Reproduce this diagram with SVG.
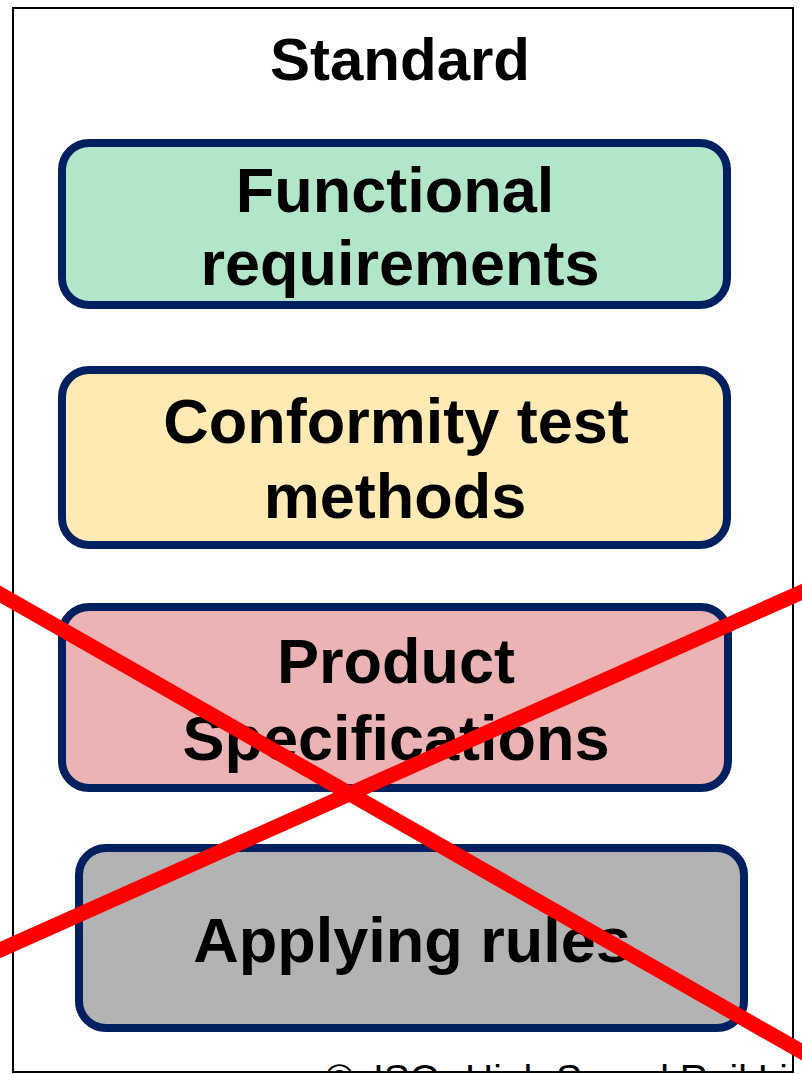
<svg xmlns="http://www.w3.org/2000/svg" width="802" height="1074" viewBox="0 0 802 1074">
  <style>
    .box { stroke: #002060; stroke-width: 8; }
    .lbl { font-family: "Liberation Sans", Arial, sans-serif; font-weight: bold; font-size: 63px; fill: #000; text-anchor: middle; }
    .cross { stroke: #FF0000; stroke-width: 15; fill: none; }
  </style>
  <defs>
    <clipPath id="frameClip">
      <rect x="13" y="8" width="780" height="1064"/>
    </clipPath>
  </defs>
  <rect width="802" height="1074" fill="#FFFFFF"/>
  <g id="frame">
    <text x="325" y="1092" clip-path="url(#frameClip)" style="font-family: 'Liberation Sans', Arial, sans-serif; font-size: 39px; fill: #000;"><tspan x="325">©</tspan><tspan x="373">ISO -</tspan><tspan x="465">High Speed Rail Li</tspan></text>
    <rect x="13" y="8" width="780" height="1064" fill="none" stroke="#000000" stroke-width="2"/>
    <text x="400" y="80" class="lbl" style="font-size: 60px;">Standard</text>
  </g>
  <g id="node-functional">
    <rect class="box" x="62" y="143" width="665" height="162" rx="27" fill="#B2E6C9"/>
    <text class="lbl" x="395" y="212">Functional</text>
    <text class="lbl" x="400" y="285">requirements</text>
  </g>
  <g id="node-conformity">
    <rect class="box" x="62" y="370" width="665" height="175" rx="27" fill="#FFEAB4"/>
    <text class="lbl" x="396" y="443">Conformity test</text>
    <text class="lbl" x="395" y="518">methods</text>
  </g>
  <g id="node-product">
    <rect class="box" x="62" y="607" width="666" height="181" rx="27" fill="#EBB3B3"/>
    <text class="lbl" x="396" y="683">Product</text>
    <text class="lbl" x="396" y="760">Specifications</text>
  </g>
  <g id="node-applying">
    <rect class="box" x="79" y="848" width="665" height="180" rx="27" fill="#B3B3B3"/>
    <text class="lbl" x="412" y="962">Applying rules</text>
  </g>
  <g id="connectors">
    <line class="cross" x1="-20" y1="582.6" x2="822" y2="1063.4"/>
    <line class="cross" x1="-20" y1="959" x2="822" y2="583"/>
  </g>
</svg>
